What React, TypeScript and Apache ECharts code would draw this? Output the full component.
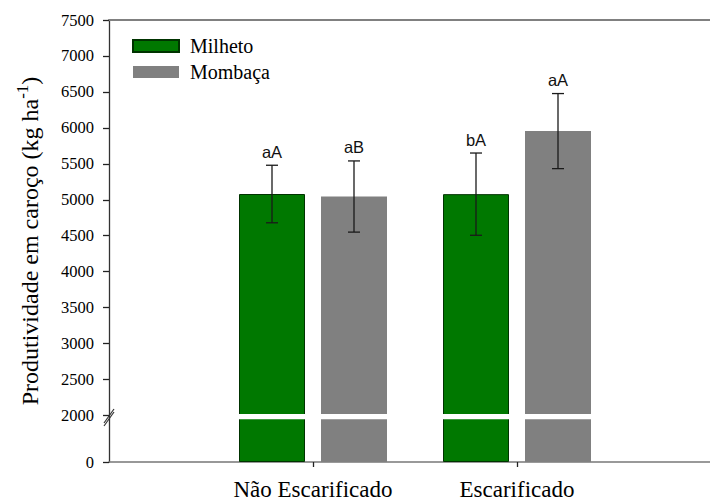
import React, { useEffect, useRef } from 'react';
import * as echarts from 'echarts';

const CATEGORIES = ['Não Escarificado', 'Escarificado'];
const SERIES_NAMES = ['Milheto', 'Mombaça'];
const MILHETO = [5080, 5078];
const MILHETO_ERR = [400, 572];
const MILHETO_LETTERS = ['aA', 'bA'];
const MOMBACA = [5045, 5955];
const MOMBACA_ERR = [495, 522];
const MOMBACA_LETTERS = ['aB', 'aA'];
const Y_TICKS = [0, 2000, 2500, 3000, 3500, 4000, 4500, 5000, 5500, 6000, 6500, 7000, 7500];
const BREAK_AT = 2000;
const BREAK_SPAN = 647;
const Y_MAX = 7500;
const STRIPE = [1840, 2020];

const toDisp = (v: number) => (v <= BREAK_AT ? (v / BREAK_AT) * BREAK_SPAN : v - BREAK_AT + BREAK_SPAN);

const GREEN = '#007800';
const GREEN_BORDER = '#003300';
const GRAY = '#808080';
const BAR_W = 66;
const BAR_GAP = 16;
const OFFSET = (BAR_W + BAR_GAP) / 2;
const SERIF = 'Liberation Serif';

const axisCats = ['', ...CATEGORIES, ''];
const pad = (arr: number[]) => [null, ...arr.map(toDisp), null];

function errSeries(means: number[], errs: number[], letters: string[], offset: number) {
  return {
    type: 'custom',
    z: 5,
    silent: true,
    data: means.map((m, i) => [i + 1, m, errs[i]]),
    renderItem: (params: any, api: any) => {
      const x = api.value(0);
      const m = api.value(1);
      const e = api.value(2);
      const letter = letters[params.dataIndex];
      const top = api.coord([x, toDisp(m + e)]);
      const bot = api.coord([x, toDisp(m - e)]);
      const s1 = api.coord([x, toDisp(STRIPE[1])]);
      const s2 = api.coord([x, toDisp(STRIPE[0])]);
      const cx = top[0] + offset;
      const lineStyle = { stroke: '#1a1a1a', lineWidth: 1.3 };
      return {
        type: 'group',
        children: [
          {
            type: 'rect',
            shape: { x: cx - BAR_W / 2 - 1, y: s1[1], width: BAR_W + 2, height: s2[1] - s1[1] },
            style: { fill: '#ffffff' },
          },
          { type: 'line', shape: { x1: cx, y1: top[1], x2: cx, y2: bot[1] }, style: lineStyle },
          { type: 'line', shape: { x1: cx - 6, y1: top[1], x2: cx + 6, y2: top[1] }, style: lineStyle },
          { type: 'line', shape: { x1: cx - 6, y1: bot[1], x2: cx + 6, y2: bot[1] }, style: lineStyle },
          {
            type: 'text',
            style: {
              text: letter,
              x: cx,
              y: top[1] - 5,
              align: 'center',
              verticalAlign: 'bottom',
              fontSize: 16.5,
              fontFamily: 'Liberation Sans',
              fill: '#111',
            },
          },
        ],
      };
    },
  };
}

export default function App() {
  const ref = useRef<HTMLDivElement>(null);
  useEffect(() => {
    if (!ref.current) return;
    document.body.style.margin = '0';
    const chart = echarts.init(ref.current, null, { renderer: 'svg' });
    const dispTicks = Y_TICKS.map(toDisp);
    chart.setOption({
      animation: false,
      backgroundColor: '#ffffff',
      textStyle: { fontFamily: SERIF },
      grid: { left: 109, top: 20, right: -11, bottom: 41, containLabel: false, outerBoundsMode: 'none' },
      legend: {
        orient: 'vertical',
        left: 127,
        top: 31,
        itemWidth: 46,
        itemHeight: 12,
        itemGap: 6,
        icon: 'rect',
        data: SERIES_NAMES,
        textStyle: {
          fontFamily: SERIF,
          fontSize: 20,
          lineHeight: 20,
          color: '#000',
          padding: [0, 0, 0, 6],
        },
      },
      xAxis: [
        {
          type: 'category',
          data: axisCats,
          boundaryGap: false,
          axisLine: { lineStyle: { color: '#777', width: 1.5 } },
          axisTick: {
            length: 5,
            interval: (i: number) => i === 1 || i === 2,
            lineStyle: { color: '#222', width: 1.3 },
          },
          axisLabel: {
            interval: 0,
            margin: 16,
            fontFamily: SERIF,
            fontSize: 23,
            lineHeight: 23,
            color: '#000',
          },
          splitLine: { show: false },
        },
        {
          type: 'category',
          data: axisCats,
          position: 'top',
          boundaryGap: false,
          axisLine: { lineStyle: { color: '#808080', width: 2 } },
          axisTick: { show: false },
          axisLabel: { show: false },
        },
      ],
      yAxis: {
        type: 'value',
        min: 0,
        max: toDisp(Y_MAX),
        axisLine: { show: true, lineStyle: { color: '#333', width: 1.3 } },
        axisTick: { show: true, length: 6, customValues: dispTicks, lineStyle: { color: '#222', width: 1.3 } },
        axisLabel: {
          customValues: dispTicks,
          margin: 15,
          fontFamily: SERIF,
          fontSize: 16.5,
          color: '#000',
          formatter: (v: number) => {
            const i = dispTicks.findIndex((t) => Math.abs(t - v) < 1);
            return i >= 0 ? String(Y_TICKS[i]) : '';
          },
        },
        splitLine: { show: false },
        name: '{a|Produtividade em caroço (kg ha}{s|-1}{a|)}',
        nameLocation: 'middle',
        nameRotate: 90,
        nameGap: 64,
        nameTextStyle: {
          rich: {
            a: { fontFamily: SERIF, fontSize: 24, color: '#000' },
            s: { fontFamily: SERIF, fontSize: 17, color: '#000', padding: [0, 0, 14, 0] },
          },
        },
      },
      series: [
        {
          name: SERIES_NAMES[0],
          type: 'bar',
          data: pad(MILHETO),
          barWidth: BAR_W,
          barGap: `${(BAR_GAP / BAR_W) * 100}%`,
          itemStyle: { color: GREEN, borderColor: GREEN_BORDER, borderWidth: 1 },
        },
        {
          name: SERIES_NAMES[1],
          type: 'bar',
          data: pad(MOMBACA),
          barWidth: BAR_W,
          barGap: `${(BAR_GAP / BAR_W) * 100}%`,
          itemStyle: { color: GRAY },
        },
        errSeries(MILHETO, MILHETO_ERR, MILHETO_LETTERS, -OFFSET),
        errSeries(MOMBACA, MOMBACA_ERR, MOMBACA_LETTERS, OFFSET),
      ],
    });
    const p = chart.convertToPixel({ xAxisIndex: 0, yAxisIndex: 0 }, [0, toDisp(1935)]) as number[];
    if (p) {
      chart.setOption({
        graphic: [
          {
            type: 'line',
            z: 100,
            shape: { x1: p[0] - 5, y1: p[1] + 6, x2: p[0] + 5, y2: p[1] - 8 },
            style: { stroke: '#333', lineWidth: 1.2 },
          },
          {
            type: 'line',
            z: 100,
            shape: { x1: p[0] - 5, y1: p[1] + 9, x2: p[0] + 5, y2: p[1] - 5 },
            style: { stroke: '#333', lineWidth: 1.2 },
          },
        ],
      });
    }
    return () => chart.dispose();
  }, []);
  return <div ref={ref} style={{ width: 710, height: 503 }} />;
}
